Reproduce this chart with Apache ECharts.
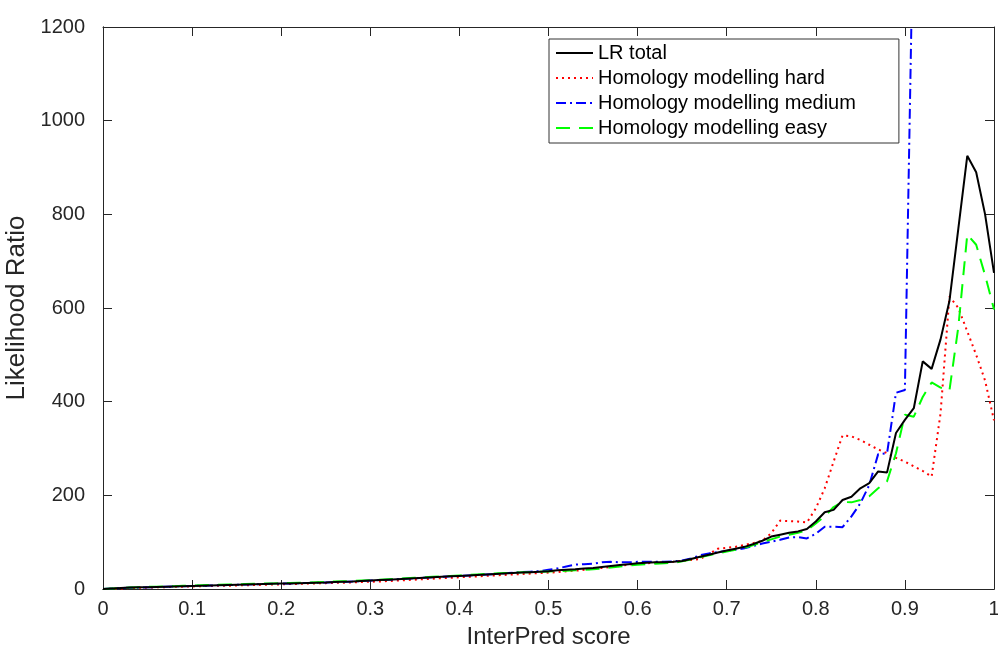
<!DOCTYPE html>
<html>
<head>
<meta charset="utf-8">
<script src="https://cdn.jsdelivr.net/npm/echarts@6/dist/echarts.min.js"></script>
<style>
  html, body { margin: 0; padding: 0; background: #fff; }
  #chart { width: 998px; height: 651px; }
</style>
</head>
<body>
<div id="chart"></div>
<script>
// InterPred score grid (0 .. 1, step 0.01)
const scores = [
  0.00, 0.01, 0.02, 0.03, 0.04, 0.05, 0.06, 0.07, 0.08, 0.09,
  0.10, 0.11, 0.12, 0.13, 0.14, 0.15, 0.16, 0.17, 0.18, 0.19,
  0.20, 0.21, 0.22, 0.23, 0.24, 0.25, 0.26, 0.27, 0.28, 0.29,
  0.30, 0.31, 0.32, 0.33, 0.34, 0.35, 0.36, 0.37, 0.38, 0.39,
  0.40, 0.41, 0.42, 0.43, 0.44, 0.45, 0.46, 0.47, 0.48, 0.49,
  0.50, 0.51, 0.52, 0.53, 0.54, 0.55, 0.56, 0.57, 0.58, 0.59,
  0.60, 0.61, 0.62, 0.63, 0.64, 0.65, 0.66, 0.67, 0.68, 0.69,
  0.70, 0.71, 0.72, 0.73, 0.74, 0.75, 0.76, 0.77, 0.78, 0.79,
  0.80, 0.81, 0.82, 0.83, 0.84, 0.85, 0.86, 0.87, 0.88, 0.89,
  0.90, 0.91, 0.92, 0.93, 0.94, 0.95, 0.96, 0.97, 0.98, 0.99,
  1.00
];

// LR total
const lrTotal = [
  0, 1, 2, 3, 3.5, 4, 4.5, 5, 5.5, 6,
  6.5, 7, 7.5, 8, 8.5, 9, 9.5, 10, 10.5, 11,
  11.5, 12, 12.5, 13, 13.5, 14, 15, 15.5, 16, 17,
  18, 19, 20, 21, 22, 23, 24, 25, 26, 27,
  28, 29, 30, 31, 32, 33, 34, 35, 36, 37,
  38, 40, 41, 42, 44, 45, 47, 49, 51, 53,
  55, 56, 57, 57, 58, 60, 64, 69, 73, 78,
  82, 86, 90, 96, 103, 112, 116, 120, 123, 128,
  144, 164, 169, 190, 197, 215, 226, 251, 249, 333,
  361, 386, 486, 470, 533, 615, 770, 925, 890, 800,
  675
];

// Homology modelling hard
const hmHard = [
  0, 0.5, 1, 2, 2.5, 3, 3.5, 4, 4.5, 5,
  5.5, 6, 6.5, 7, 7, 7.5, 8, 8.5, 9, 9.5,
  10, 10.5, 11, 11.5, 12, 12.5, 13, 13.5, 14, 15,
  15.5, 16, 17, 18, 19, 20, 21, 22, 23, 24,
  25, 26, 27, 28, 29, 30, 31, 32, 33, 34,
  35, 36, 38, 39, 41, 43, 45, 47, 49, 52,
  54, 55, 56, 57, 58, 60, 62, 64, 75, 86,
  88, 90, 94, 98, 103, 119, 146, 145, 144, 142,
  172, 215, 272, 328, 326, 318, 308, 298, 290, 280,
  272, 262, 252, 240, 375, 625, 600, 550, 500, 445,
  360
];

// Homology modelling medium (leaves the plot above 0.91)
const hmMedium = [
  0, 1, 2, 2.5, 3, 3.5, 4, 5, 5.5, 6,
  6.5, 7, 7.5, 8, 8.5, 9, 9.5, 10, 10.5, 11,
  11.5, 12, 12.5, 13, 13.5, 14, 14.5, 15, 16, 17,
  18, 19, 20, 21, 22, 23, 24, 25, 26, 27,
  28, 29, 30, 31, 32, 33.5, 35, 36, 37, 38,
  41, 44, 48, 52, 53, 54, 57, 58, 57, 57,
  58, 58, 58, 58, 59, 61, 65, 72, 76, 79,
  81, 84, 87, 92, 97, 101, 105, 110, 111, 108,
  118, 133, 133, 132, 155, 183, 222, 288, 290, 419,
  425, 1500, null, null, null, null, null, null, null, null,
  null
];

// Homology modelling easy
const hmEasy = [
  0, 1, 2, 3, 4, 4.5, 5, 5.5, 6, 7,
  7.5, 8, 8.5, 9, 9.5, 10, 10.5, 11, 11.5, 12,
  12.5, 13, 13.5, 14, 14.5, 15, 16, 16.5, 17, 18,
  19, 20, 21, 22, 23, 24, 25, 26, 27, 28,
  29, 30, 31, 32, 33, 34, 35, 35.5, 36, 37,
  37.5, 38, 39, 40, 41, 42, 44, 46, 48, 50,
  52, 53, 54, 55, 56, 59, 63, 68, 72, 76,
  80, 84, 88, 94, 100, 106, 112, 116, 120, 125,
  140, 155, 175, 186, 185, 190, 198, 215, 230, 290,
  372, 368, 410, 441, 430, 424, 560, 757, 735, 670,
  597
];

const pairs = ys => scores.map((x, i) => [x, ys[i]]);

const FONT = "'Liberation Sans', Arial, Helvetica, sans-serif";
const AXIS_COLOR = '#262626';

const chart = echarts.init(document.getElementById('chart'));

const axisLine = () => ({ show: true, onZero: false, lineStyle: { color: AXIS_COLOR, width: 1 } });
// label-less axes that only carry the inward ticks (box style, like MATLAB)
const tickAxisX = position => ({
  type: 'value', position, min: 0, max: 1, interval: 0.1,
  axisLine: axisLine(),
  axisTick: { show: true, inside: true, length: 9 },
  splitLine: { show: false },
  axisLabel: { show: false }
});
const tickAxisY = position => ({
  type: 'value', position, min: 0, max: 1200, interval: 200,
  axisLine: axisLine(),
  axisTick: { show: true, inside: true, length: 9 },
  splitLine: { show: false },
  axisLabel: { show: false }
});

const option = {
  animation: false,
  textStyle: { fontFamily: FONT },
  grid: { left: 103, right: 4, top: 27, bottom: 62, containLabel: false, outerBoundsMode: 'none' },
  legend: {
    orient: 'vertical',
    left: 549,
    top: 39,
    itemWidth: 37,
    itemHeight: 14,
    itemGap: 5,
    padding: [4, 43, 5, 6],
    borderColor: '#333',
    borderWidth: 1,
    backgroundColor: '#fff',
    itemStyle: { color: 'transparent', borderColor: 'transparent', borderWidth: 0 },
    textStyle: { fontSize: 20, color: '#000', fontFamily: FONT, lineHeight: 20 },
    data: ['LR total', 'Homology modelling hard', 'Homology modelling medium', 'Homology modelling easy']
  },
  xAxis: [
    {
      type: 'value',
      min: 0,
      max: 1,
      interval: 0.1,
      axisLine: axisLine(),
      axisTick: { show: false },
      splitLine: { show: false },
      name: 'InterPred score',
      nameLocation: 'middle',
      nameGap: 36,
      nameTextStyle: { fontSize: 24, color: AXIS_COLOR, fontFamily: FONT },
      axisLabel: {
        fontSize: 20,
        color: AXIS_COLOR,
        margin: 10,
        formatter: v => (v === 0 || v === 1) ? String(v) : v.toFixed(1)
      }
    },
    tickAxisX('top'),
    tickAxisX('bottom')
  ],
  yAxis: [
    {
      type: 'value',
      min: 0,
      max: 1200,
      interval: 200,
      axisLine: axisLine(),
      axisTick: { show: false },
      splitLine: { show: false },
      name: 'Likelihood Ratio',
      nameLocation: 'middle',
      nameGap: 42,
      nameTextStyle: { fontSize: 26, color: AXIS_COLOR, fontFamily: FONT },
      axisLabel: { fontSize: 20, color: AXIS_COLOR, margin: 18, formatter: v => String(v) }
    },
    tickAxisY('right'),
    tickAxisY('left')
  ],
  series: [
    {
      name: 'LR total',
      type: 'line',
      data: pairs(lrTotal),
      symbol: 'none',
      lineStyle: { color: '#000', width: 2, type: 'solid' },
      itemStyle: { color: '#000' },
      z: 5
    },
    {
      name: 'Homology modelling hard',
      type: 'line',
      data: pairs(hmHard),
      symbol: 'none',
      lineStyle: { color: '#ff0000', width: 2, type: [2, 4] },
      itemStyle: { color: '#ff0000' },
      z: 3
    },
    {
      name: 'Homology modelling medium',
      type: 'line',
      data: pairs(hmMedium),
      symbol: 'none',
      connectNulls: false,
      lineStyle: { color: '#0000ff', width: 2, type: [10, 4, 2, 4] },
      itemStyle: { color: '#0000ff' },
      z: 4
    },
    {
      name: 'Homology modelling easy',
      type: 'line',
      data: pairs(hmEasy),
      symbol: 'none',
      lineStyle: { color: '#00ff00', width: 2, type: [14, 9] },
      itemStyle: { color: '#00ff00' },
      z: 4
    }
  ]
};

chart.setOption(option);
</script>
</body>
</html>
